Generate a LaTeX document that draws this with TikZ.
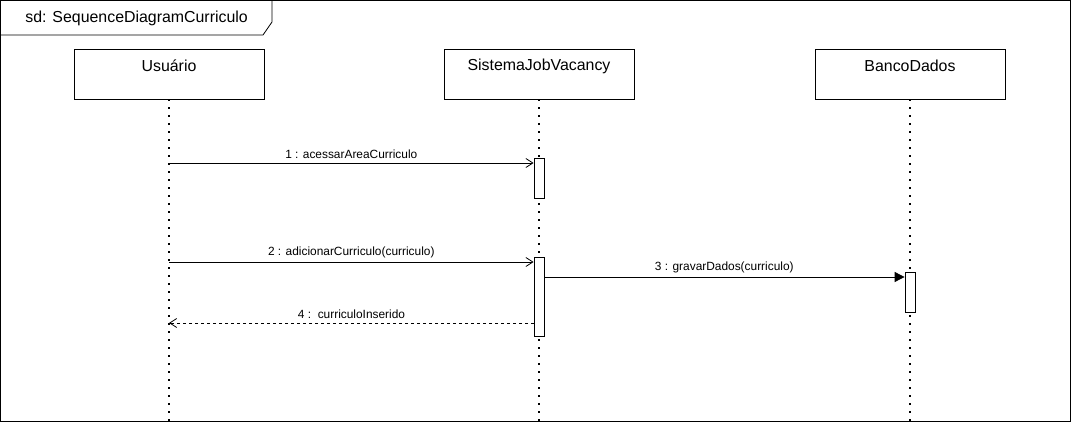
\documentclass[tikz,border=0pt]{standalone}
\usepackage{fontspec}
\setmainfont{Liberation Sans}
\usetikzlibrary{arrows.meta}
\begin{document}
\begin{tikzpicture}  % ------ sd: SequenceDiagramCurriculo --------------
      [x=1pt,y=-1pt,line width=0.8pt,
       obj/.style={draw,minimum width=190pt,minimum height=50pt,inner sep=0pt},
       objtxt/.style={font=\fontsize{15.9}{18}\selectfont,inner sep=0pt},
       act/.style={draw,fill=white,minimum width=10pt,inner sep=0pt},
       lifeline/.style={line width=1.6pt,dash pattern=on 1.6pt off 6.4pt},
       call/.style={-{Straight Barb[length=7pt,width=9pt,line width=0.8pt]}},
       synccall/.style={-{Triangle[length=10pt,width=10pt]}},
       reply/.style={dashed,dash pattern=on 3pt off 3pt,-{Straight Barb[length=7pt,width=9pt,line width=0.8pt]}},
       msglbl/.style={font=\fontsize{11.9}{14}\selectfont,inner sep=0pt}]
    \useasboundingbox (0,0) rectangle (1071,422);

    % frame
    \draw (0.5,0.5) rectangle (1070.5,421);
    \draw (0.5,35) -- (263,35) -- (272,22) -- (272,0.5);
    \node[objtxt,anchor=west] (title) at (25,18) {sd: SequenceDiagramCurriculo};

    % objects
    \node[obj] (usr) at (169,74) {};
    \node[obj] (sis) at (539,74) {};
    \node[obj] (bd)  at (910,74) {};
    \node[objtxt] (usrtxt) at (169,66) {Usuário};
    \node[objtxt] (sistxt) at (539,66) {SistemaJobVacancy};
    \node[objtxt] (bdtxt)  at (910,66) {BancoDados};

    % lifelines
    \coordinate (usrend) at (169,421);
    \coordinate (sisend) at (539,421);
    \coordinate (bdend)  at (910,421);
    \draw[lifeline] (usr.south) -- (usrend);
    \draw[lifeline] (sis.south) -- (sisend);
    \draw[lifeline] (bd.south)  -- (bdend);

    % activations
    \node[act,minimum height=40pt] (act1) at (539,178) {};
    \node[act,minimum height=79pt] (act2) at (539,296.5) {};
    \node[act,minimum height=40pt] (act3) at (910,292) {};

    % messages
    \coordinate (m1) at (169,163);
    \coordinate (m2) at (169,262);
    \coordinate (m3) at (544,277);
    \coordinate (m4) at (534,323);
    \draw[call] (m1) -- (act1.west |- m1)
       node[msglbl,midway,above=4pt] (l1) {1 : acessarAreaCurriculo};
    \draw[call] (m2) -- (act2.west |- m2)
       node[msglbl,midway,above=4pt] (l2) {2 : adicionarCurriculo(curriculo)};
    \draw[synccall] (m3) -- (act3.west |- m3)
       node[msglbl,midway,above=4pt] (l3) {3 : gravarDados(curriculo)};
    \draw[reply] (m4) -- (usr.south |- m4)
       node[msglbl,midway,above=4pt] (l4) {4 :\ \ curriculoInserido};
\end{tikzpicture}
\end{document}
